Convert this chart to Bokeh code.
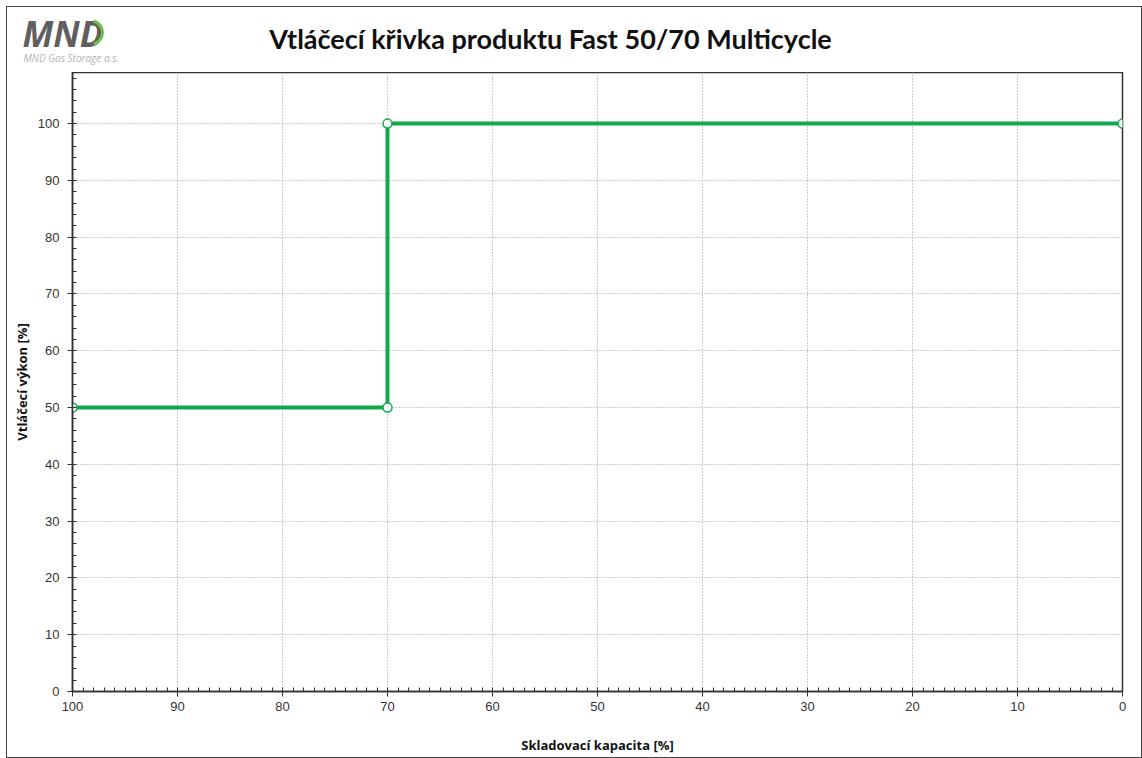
from bokeh.plotting import figure
from bokeh.layouts import column
from bokeh.models import Range1d, FixedTicker, ColumnDataSource
from bokeh.core.properties import value
from bokeh.embed import file_html
from bokeh.resources import INLINE

# data
capacity = [100, 70, 70, 0]
performance = [50, 50, 100, 100]
x_ticks = [0, 10, 20, 30, 40, 50, 60, 70, 80, 90, 100]
y_ticks = [0, 10, 20, 30, 40, 50, 60, 70, 80, 90, 100]
title_text = "Vtláčecí křivka produktu Fast 50/70 Multicycle"
x_label = "Skladovací kapacita [%]"
y_label = "Vtláčecí výkon [%]"
logo_text = "MND"
logo_sub = "MND Gas Storage a.s."

GREEN = "#13a84b"

FW = 1134
HEAD_H = 65
MAIN_H = 685

# ---- header (title + logo) ----
head = figure(width=FW, height=HEAD_H, output_backend="svg", toolbar_location=None,
              title=None,
              x_range=Range1d(0, FW), y_range=Range1d(HEAD_H, 0),
              x_axis_type=None, y_axis_type=None,
              min_border=0, min_border_left=0, min_border_right=0,
              min_border_top=0, min_border_bottom=0)
head.frame_align = False
head.outline_line_color = None
head.grid.visible = False
head.background_fill_color = "white"
head.border_fill_color = "white"

head.text(x=[543], y=[31], text=[title_text], text_align="center", text_baseline="alphabetic",
          text_font=value("Lato"), text_font_style="bold", text_font_size="27px",
          text_color="#111111")
head.text(x=[15], y=[26], text=[logo_text], text_align="left", text_baseline="alphabetic",
          text_font=value("Open Sans"), text_font_style="bold italic", text_font_size="35px",
          text_color="#5f5f5f")
head.arc(x=[83], y=[25], radius=12, start_angle=-1.3, end_angle=1.3,
         line_color="#6cc04a", line_width=3)
head.text(x=[16], y=[50], text=[logo_sub], text_align="left", text_baseline="alphabetic",
          text_font=value("Open Sans"), text_font_style="italic", text_font_size="10px",
          text_color="#b4b4b4")

# ---- main chart ----
p = figure(width=FW, height=MAIN_H, output_backend="svg", toolbar_location=None,
           x_range=Range1d(100, 0), y_range=Range1d(0, 109),
           min_border_left=65, min_border_right=19, min_border_top=0, min_border_bottom=66)
p.frame_align = False

src = ColumnDataSource(dict(x=capacity, y=performance))
p.line("x", "y", source=src, line_color=GREEN, line_width=4)
p.scatter("x", "y", source=src, size=9, fill_color="white", line_color=GREEN, line_width=1.5)

p.xaxis.ticker = FixedTicker(ticks=x_ticks, minor_ticks=list(range(0, 101)))
p.yaxis.ticker = FixedTicker(ticks=y_ticks, minor_ticks=list(range(0, 110, 2)))

for ax in (p.xaxis[0], p.yaxis[0]):
    ax.major_tick_out = 5
    ax.major_tick_in = 0
    ax.minor_tick_in = 4
    ax.minor_tick_out = 0
    ax.axis_line_color = "#303030"
    ax.axis_line_width = 1.5
    ax.major_tick_line_color = "#303030"
    ax.minor_tick_line_color = "#303030"
    ax.major_label_text_font = "Liberation Sans"
    ax.major_label_text_font_size = "13px"
    ax.major_label_text_color = "#333333"
    ax.axis_label_text_font = "Open Sans"
    ax.axis_label_text_font_style = "bold"
    ax.axis_label_text_font_size = "13px"
    ax.axis_label_text_color = "#111111"

p.xaxis.axis_label = x_label
p.xaxis.major_label_standoff = 5
p.xaxis.axis_label_standoff = 22
p.yaxis.axis_label = y_label
p.yaxis.major_label_standoff = 8
p.yaxis.axis_label_standoff = 4

p.xgrid.ticker = FixedTicker(ticks=x_ticks)
p.ygrid.ticker = FixedTicker(ticks=y_ticks)
for g in (p.xgrid[0], p.ygrid[0]):
    g.grid_line_color = "#9a9a9a"
    g.grid_line_dash = "1 2"
    g.grid_line_width = 1

p.outline_line_color = "#303030"
p.outline_line_width = 1.5
p.background_fill_color = "white"
p.border_fill_color = "white"

layout = column(head, p, spacing=0)
layout.styles = {"border": "1px solid #444", "margin": "6px 0 0 6px"}

open("out.html", "w").write(file_html(layout, INLINE))
